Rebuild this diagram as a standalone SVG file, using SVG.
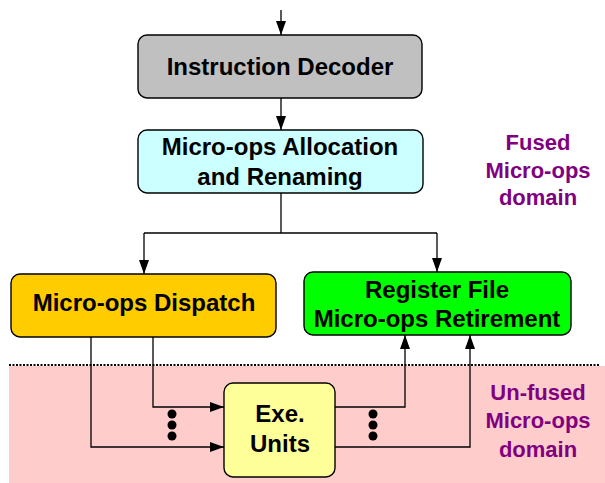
<svg xmlns="http://www.w3.org/2000/svg" width="605" height="483" viewBox="0 0 605 483">
<style>
.box{stroke:#000;stroke-width:1.4}
.t{font-family:"Liberation Sans",Arial,sans-serif;font-weight:bold;font-size:24px;fill:#000;text-anchor:middle}
.p{font-family:"Liberation Sans",Arial,sans-serif;font-weight:bold;font-size:22px;fill:#800080;text-anchor:middle}
.c{fill:none;stroke:#000;stroke-width:1.3}
</style>
<defs>
<marker id="ah" viewBox="0 0 14 10" refX="14" refY="5" markerWidth="14" markerHeight="10" markerUnits="userSpaceOnUse" orient="auto">
<path d="M0,0 L14,5 L0,10 Z" fill="#000"/>
</marker>
</defs>
<rect x="9" y="366" width="596" height="117" fill="#FFCCCC"/>
<line x1="9" y1="365" x2="600" y2="365" stroke="#000" stroke-width="2" stroke-dasharray="2,1.5"/>
<g id="decoder">
<rect class="box" x="138" y="35" width="284" height="63" rx="9" fill="#C0C0C0"/>
<text class="t" x="280" y="75">Instruction Decoder</text>
</g>
<g id="allocation">
<rect class="box" x="138" y="130" width="285" height="63" rx="9" fill="#CCFFFF"/>
<text class="t" x="280" y="155">Micro-ops Allocation</text>
<text class="t" x="280" y="185">and Renaming</text>
</g>
<g id="dispatch">
<rect class="box" x="11" y="274" width="265" height="63" rx="9" fill="#FFCC00"/>
<text class="t" x="144" y="311">Micro-ops Dispatch</text>
</g>
<g id="retirement">
<rect class="box" x="304" y="272" width="267" height="63" rx="9" fill="#00FF00"/>
<text class="t" x="437" y="298">Register File</text>
<text class="t" x="437" y="327">Micro-ops Retirement</text>
</g>
<g id="exe">
<rect class="box" x="224" y="383" width="111" height="94" rx="9" fill="#FFFF99"/>
<text class="t" x="280" y="422">Exe.</text>
<text class="t" x="280" y="452">Units</text>
</g>
<g id="fused-label">
<text class="p" x="538" y="150">Fused</text>
<text class="p" x="538" y="178">Micro-ops</text>
<text class="p" x="538" y="205">domain</text>
</g>
<g id="unfused-label">
<text class="p" x="538" y="400">Un-fused</text>
<text class="p" x="538" y="428">Micro-ops</text>
<text class="p" x="538" y="457">domain</text>
</g>
<g id="connectors">
<line class="c" x1="281" y1="10" x2="281" y2="35" marker-end="url(#ah)"/>
<line class="c" x1="281" y1="98" x2="281" y2="130" marker-end="url(#ah)"/>
<polyline class="c" points="281,193 281,233"/>
<polyline class="c" points="144,233 437,233"/>
<line class="c" x1="144" y1="233" x2="144" y2="274" marker-end="url(#ah)"/>
<line class="c" x1="437" y1="233" x2="437" y2="272" marker-end="url(#ah)"/>
<polyline class="c" points="153,337 153,407 224,407" marker-end="url(#ah)"/>
<polyline class="c" points="91,337 91,447 224,447" marker-end="url(#ah)"/>
<polyline class="c" points="335,407 405,407 405,335" marker-end="url(#ah)"/>
<polyline class="c" points="335,447 470,447 470,335" marker-end="url(#ah)"/>
<g fill="#000">
<circle cx="172" cy="414" r="4.5"/>
<circle cx="172" cy="425" r="4.5"/>
<circle cx="172" cy="436" r="4.5"/>
<circle cx="373" cy="414" r="4.5"/>
<circle cx="373" cy="425" r="4.5"/>
<circle cx="373" cy="436" r="4.5"/>
</g>
</g>
</svg>
